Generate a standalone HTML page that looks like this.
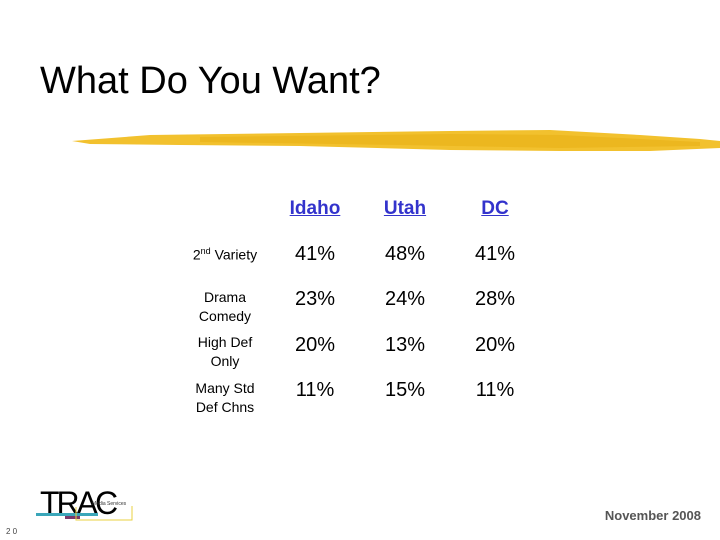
<!DOCTYPE html>
<html><head><meta charset="utf-8"><style>
body{margin:0;width:720px;height:540px;background:#fff;position:relative;overflow:hidden;font-family:"Liberation Sans",sans-serif;}
.a{position:absolute;}
.h{font-weight:bold;color:#3333cc;text-decoration:underline;font-size:19px;width:90px;text-align:center;top:198px;}
.v{font-size:20px;color:#000;width:90px;text-align:center;}
.l{font-size:14px;color:#000;width:110px;text-align:center;left:170px;line-height:19px;}
</style></head><body>
<div class="a" style="left:40px;top:60px;font-size:38px;color:#000;">What Do You Want?</div>
<svg class="a" style="left:0;top:0" width="720" height="540">
<polygon points="72,141 150,135 300,133 450,131 550,130 640,135 700,139 720,141 720,148 650,151 560,151 450,150 300,146 180,145 90,144" fill="#f2c12e"/>
<polygon points="200,137 450,134 560,135 700,142 700,146 560,148 400,145 200,142" fill="#e8b016" opacity="0.6"/>
</svg>
<div class="a h" style="left:270px;">Idaho</div>
<div class="a h" style="left:360px;">Utah</div>
<div class="a h" style="left:450px;">DC</div>

<div class="a l" style="top:242px;">2<sup style="font-size:9px">nd</sup> Variety</div>
<div class="a l" style="top:288px;">Drama<br>Comedy</div>
<div class="a l" style="top:333px;">High Def<br>Only</div>
<div class="a l" style="top:379px;">Many Std<br>Def Chns</div>

<div class="a v" style="left:270px;top:243px;">41%</div>
<div class="a v" style="left:360px;top:243px;">48%</div>
<div class="a v" style="left:450px;top:243px;">41%</div>
<div class="a v" style="left:270px;top:288px;">23%</div>
<div class="a v" style="left:360px;top:288px;">24%</div>
<div class="a v" style="left:450px;top:288px;">28%</div>
<div class="a v" style="left:270px;top:334px;">20%</div>
<div class="a v" style="left:360px;top:334px;">13%</div>
<div class="a v" style="left:450px;top:334px;">20%</div>
<div class="a v" style="left:270px;top:379px;">11%</div>
<div class="a v" style="left:360px;top:379px;">15%</div>
<div class="a v" style="left:450px;top:379px;">11%</div>

<svg class="a" style="left:30px;top:484px" width="110" height="40">
<text x="10" y="30" font-family="Liberation Sans,sans-serif" font-size="32" letter-spacing="-3" fill="#000">TRAC</text>
<text x="62" y="21" font-family="Liberation Sans,sans-serif" font-size="5" fill="#333">Media Services</text>
<rect x="6" y="29" width="62" height="3" fill="#3aa6b9"/>
<rect x="35" y="32" width="15" height="3" fill="#7a3a6a"/>
<polyline points="46,23 46,36 102,36 102,22" fill="none" stroke="#e8d040" stroke-width="1"/>
</svg>
<div class="a" style="left:6px;top:527px;font-size:8px;color:#444;">2 0</div>
<div class="a" style="right:19px;top:508px;font-size:13px;font-weight:bold;color:#555;">November 2008</div>
</body></html>
